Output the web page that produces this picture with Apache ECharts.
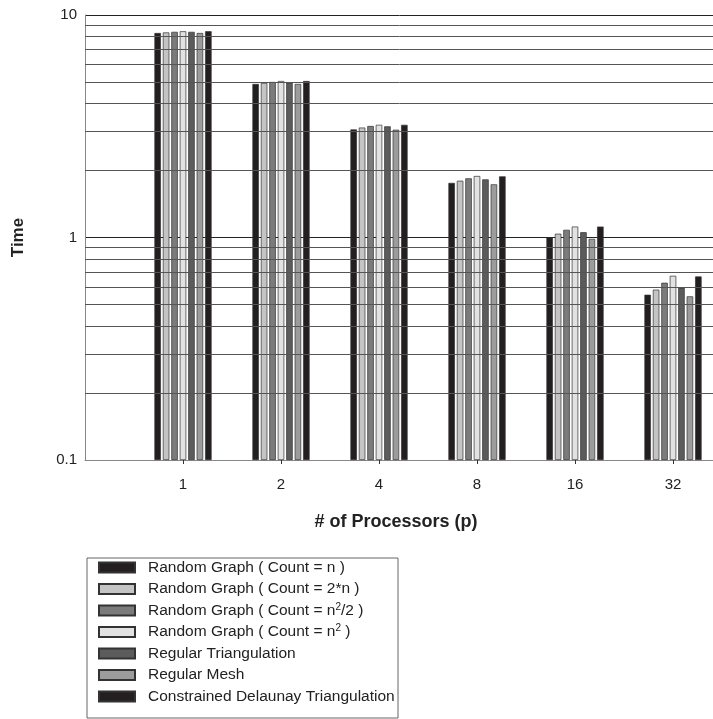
<!DOCTYPE html>
<html>
<head>
<meta charset="utf-8">
<script src="https://cdn.jsdelivr.net/npm/echarts@6/dist/echarts.min.js"></script>
<style>html,body{margin:0;padding:0;background:#fff;}#c{width:713px;height:719px;}</style>
</head>
<body>
<div id="c"></div>
<script>
const categories = ['1', '2', '4', '8', '16', '32'];
const seriesNames = [
  'Random Graph ( Count = n )',
  'Random Graph ( Count = 2*n )',
  'Random Graph ( Count = n^2/2 )',
  'Random Graph ( Count = n^2 )',
  'Regular Triangulation',
  'Regular Mesh',
  'Constrained Delaunay Triangulation'
];
const randCountN    = [8.30, 4.90, 3.06, 1.760, 1.000, 0.553];
const randCount2N   = [8.35, 4.95, 3.12, 1.800, 1.040, 0.583];
const randCountN2h  = [8.40, 5.00, 3.17, 1.845, 1.083, 0.626];
const randCountN2   = [8.45, 5.05, 3.21, 1.890, 1.120, 0.673];
const regTriang     = [8.40, 4.97, 3.16, 1.825, 1.056, 0.595];
const regMesh       = [8.30, 4.90, 3.05, 1.734, 0.986, 0.544];
const cdt           = [8.45, 5.05, 3.21, 1.883, 1.120, 0.668];
const yTickLabels = ['0.1', '1', '10'];
const yMin = 0.1, yMax = 10;
const minorGrid = [0.2, 0.3, 0.4, 0.5, 0.6, 0.7, 0.8, 0.9, 2, 3, 4, 5, 6, 7, 8, 9];

const seriesValues = [randCountN, randCount2N, randCountN2h, randCountN2, regTriang, regMesh, cdt];
const colors = ['#231f20', '#c4c4c4', '#7b7b7b', '#e2e2e2', '#5c5c5c', '#9c9c9c', '#231f20'];
const FONT = '"Liberation Sans", Arial, Helvetica, sans-serif';

const xData = [''].concat(categories).concat(['']);
const pad = arr => [null].concat(arr).concat([null]);

// Each bar is a stack: an invisible base from the axis floor (0.1) then the visible part up to the value.
const barSeries = [];
seriesNames.forEach((name, i) => {
  barSeries.push({
    name: 'base' + i,
    type: 'bar',
    stack: 'st' + i,
    z: 0,
    silent: true,
    barWidth: 6.5,
    barGap: '30%',
    data: pad(seriesValues[i].map(() => yMin)),
    itemStyle: { color: 'rgba(0,0,0,0)', borderWidth: 0 },
    animation: false
  });
  barSeries.push({
    name: name,
    type: 'bar',
    stack: 'st' + i,
    z: 3,
    barWidth: 6.5,
    barGap: '30%',
    data: pad(seriesValues[i].map(v => v - yMin)),
    itemStyle: { color: colors[i], borderColor: '#333', borderWidth: 0.7 },
    animation: false
  });
});

const gridSeries = {
  name: 'grid',
  type: 'line',
  data: [],
  z: 1,
  silent: true,
  animation: false,
  markLine: {
    silent: true,
    symbol: 'none',
    animation: false,
    label: { show: false },
    lineStyle: { color: '#555', width: 1, type: 'solid' },
    data: minorGrid.map(v => ({ yAxis: v }))
  }
};

const chart = echarts.init(document.getElementById('c'), null, { renderer: 'canvas' });
chart.setOption({
  backgroundColor: '#fff',
  animation: false,
  grid: { left: 85, top: 15, height: 445, width: 686, containLabel: false, outerBoundsMode: 'none' },
  xAxis: {
    type: 'category',
    data: xData,
    boundaryGap: false,
    axisLine: { lineStyle: { color: '#888', width: 1 } },
    axisTick: { show: true, length: 4, lineStyle: { color: '#333' }, interval: (idx, val) => val !== '' },
    axisLabel: { color: '#222', fontSize: 15, fontFamily: FONT, margin: 17, interval: 0 },
    splitLine: { show: false }
  },
  yAxis: {
    type: 'log',
    logBase: 10,
    min: yMin,
    max: yMax,
    name: 'Time',
    nameLocation: 'middle',
    nameGap: 58,
    nameTextStyle: { fontSize: 17, fontWeight: 'bold', color: '#222', fontFamily: FONT },
    axisLine: { show: true, lineStyle: { color: '#888', width: 1 } },
    axisTick: { show: false },
    axisLabel: {
      color: '#222', fontSize: 15, fontFamily: FONT, margin: 8,
      formatter: v => { const s = yTickLabels.find(t => Math.abs(parseFloat(t) - v) < 1e-9); return s || ''; }
    },
    splitLine: { show: true, lineStyle: { color: '#222', width: 1 } }
  },
  legend: {
    orient: 'vertical',
    left: 87,
    top: 559,
    padding: [0, 5, 5, 11],
    itemWidth: 36,
    itemHeight: 10,
    itemGap: 4.5,
    icon: 'rect',
    data: seriesNames,
    selectedMode: false,
    formatter: name => name.replace(/\^2/g, '{sup|2}'),
    textStyle: {
      fontSize: 15.5, color: '#222', fontFamily: FONT, lineHeight: 17, padding: [0, 0, 0, 8],
      rich: { sup: { fontSize: 10, fontFamily: FONT, color: '#222', verticalAlign: 'top', lineHeight: 17 } }
    }
  },
  graphic: [
    { type: 'rect', x: 87, y: 558, shape: { x: 0, y: 0, width: 311, height: 160 }, style: { fill: 'none', stroke: '#666', lineWidth: 1 }, silent: true },
    { type: 'text', x: 396, y: 522, style: { text: '# of Processors (p)', font: 'bold 18px ' + FONT, fill: '#222', textAlign: 'center', textVerticalAlign: 'middle' }, silent: true }
  ],
  series: barSeries.concat([gridSeries])
});
</script>
</body>
</html>
